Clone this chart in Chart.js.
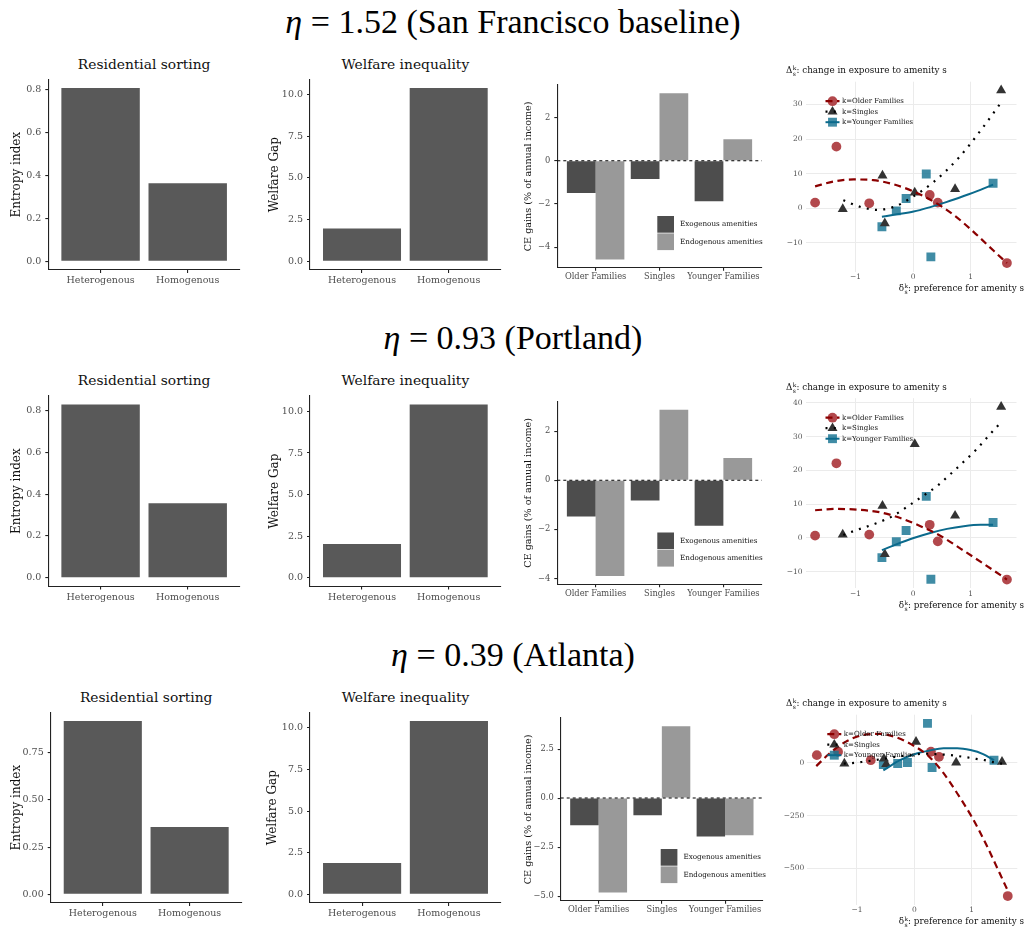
<!DOCTYPE html>
<html>
<head>
<meta charset="utf-8">
<script src="https://cdn.jsdelivr.net/npm/chart.js@4.4.1/dist/chart.umd.min.js"></script>
<style>
body{margin:0;background:#fff;}
#fig{position:relative;width:1026px;height:930px;overflow:hidden;font-family:"DejaVu Serif",serif;color:#1a1a1a;}
#fig canvas{position:absolute;}
.rowtitle{position:absolute;left:0;width:1026px;text-align:center;font-family:"Liberation Serif",serif;font-size:34px;line-height:34px;color:#000;white-space:nowrap;}
.ptitle{position:absolute;width:240px;text-align:center;font-size:13.8px;line-height:20px;color:#111;white-space:nowrap;}
.slab{position:absolute;font-size:8.8px;line-height:12px;color:#111;white-space:nowrap;}
.ss{display:inline-flex;flex-direction:column;font-size:6px;line-height:6px;vertical-align:3px;margin-left:0.5px;}
</style>
</head>
<body>
<div id="fig"></div>
<script>
// row headers
const rowEta = ['1.52', '0.93', '0.39'];
const rowCity = ['San Francisco baseline', 'Portland', 'Atlanta'];

// residential sorting / welfare inequality
const regimes = ['Heterogenous', 'Homogenous'];
const entropyIndex = [[0.809, 0.364], [0.829, 0.357], [0.918, 0.356]];
const welfareGap = [[1.97, 10.38], [2.04, 10.42], [1.89, 10.42]];
const entropyTicks = [[0, 0.2, 0.4, 0.6, 0.8], [0, 0.2, 0.4, 0.6, 0.8], [0, 0.25, 0.5, 0.75]];
const entropyTickLabels = [['0.0', '0.2', '0.4', '0.6', '0.8'], ['0.0', '0.2', '0.4', '0.6', '0.8'], ['0.00', '0.25', '0.50', '0.75']];
const gapTicks = [0, 2.5, 5, 7.5, 10];
const gapTickLabels = ['0.0', '2.5', '5.0', '7.5', '10.0'];

// CE gains
const groups = ['Older Families', 'Singles', 'Younger Families'];
const ceExogenous = [[-1.50, -0.85, -1.88], [-1.48, -0.83, -1.86], [-1.39, -0.87, -1.96]];
const ceEndogenous = [[-4.57, 3.12, 0.99], [-3.90, 2.87, 0.91], [-4.81, 3.66, -1.89]];
const ceTicks = [[-4, -2, 0, 2], [-4, -2, 0, 2], [-5, -2.5, 0, 2.5]];
const ceTickLabels = [['\u22124', '\u22122', '0', '2'], ['\u22124', '\u22122', '0', '2'], ['\u22125.0', '\u22122.5', '0.0', '2.5']];

// exposure vs preference (points)
const prefOlder = [-1.70, -1.33, -0.76, 0.29, 0.43, 1.63];
const prefSingles = [-1.22, -0.53, -0.49, 0.03, 0.73, 1.53];
const prefYounger = [-0.54, -0.29, -0.12, 0.23, 0.31, 1.39];
const expoOlder = [[1.6, 17.8, 1.4, 3.8, 1.6, -15.9], [0.7, 22.1, 1.0, 3.9, -1.0, -12.3], [37, 53, 13, 53, 29, -632]];
const expoSingles = [[-0.3, 9.4, -4.4, 4.5, 5.5, 34.1], [1.0, 9.5, -4.8, 27.8, 6.6, 38.8], [-3, 20, -6, 100, 2, 5]];
const expoYounger = [[-5.4, -0.8, 2.8, 9.9, -14.1, 7.2], [-5.8, -1.1, 2.2, 12.3, -12.2, 4.6], [-8, -3, 2, 188, -22, 13]];

// fitted curves
const fitOlderX = [
  [-1.70, -1.38, -1.03, -0.69, -0.34, 0.00, 0.36, 0.71, 1.06, 1.41, 1.63],
  [-1.70, -1.33, -0.98, -0.57, -0.22, 0.13, 0.48, 0.83, 1.17, 1.52, 1.63],
  [-1.71, -1.50, -1.20, -0.90, -0.60, -0.30, 0.00, 0.25, 0.50, 0.75, 1.00, 1.25, 1.50, 1.64]
];
const fitOlderY = [
  [6.3, 7.7, 8.3, 8.1, 6.9, 4.9, 1.9, -2.0, -7.0, -12.5, -15.9],
  [8.2, 8.6, 8.4, 7.6, 5.9, 3.5, 0.6, -3.2, -7.0, -11.0, -12.3],
  [-15, 40, 100, 132, 138, 120, 80, 32, -45, -145, -255, -385, -530, -612]
];
const fitSinglesX = [
  [-1.21, -0.92, -0.62, -0.31, -0.02, 0.36, 0.80, 1.17, 1.53],
  [-1.21, -0.92, -0.63, -0.34, -0.08, 0.17, 0.42, 0.65, 0.87, 1.09, 1.30, 1.53],
  [-1.23, -1.05, -0.90, -0.60, -0.30, 0.00, 0.16, 0.32, 0.47, 0.63, 0.78, 0.93, 1.08, 1.23, 1.39, 1.54]
];
const fitSinglesY = [
  [2.3, 0.4, -0.5, 0.5, 3.1, 7.6, 14.7, 22.4, 30.6],
  [0.9, 2.7, 4.4, 6.6, 9.5, 12.4, 15.4, 18.9, 22.4, 26.0, 30.0, 34.3],
  [-3, 0, 5, 17, 30, 40, 44, 42, 40, 37, 32, 26, 19, 13, 3, -4]
];
const fitYoungerX = [
  [-0.54, -0.28, 0.01, 0.30, 0.59, 0.88, 1.17, 1.39],
  [-0.54, -0.28, 0.01, 0.30, 0.59, 0.88, 1.17, 1.39],
  [-0.54, -0.25, 0.04, 0.25, 0.51, 0.75, 0.98, 1.20, 1.39]
];
const fitYoungerY = [
  [-2.5, -1.8, -1.0, 0.3, 1.8, 3.5, 5.3, 6.8],
  [-3.6, -1.8, 0.0, 1.5, 2.7, 3.5, 3.9, 3.9],
  [-35, 13, 45, 58, 70, 70, 61, 42, 13]
];
const prefTicks = [-1, 0, 1];
const prefTickLabels = ['\u22121', '0', '1'];
const expoTicks = [[-10, 0, 10, 20, 30], [-10, 0, 10, 20, 30, 40], [-500, -250, 0]];
const expoTickLabels = [['\u221210', '0', '10', '20', '30'], ['\u221210', '0', '10', '20', '30', '40'], ['\u2212500', '\u2212250', '0']];
const groupKeys = ['k=Older Families', 'k=Singles', 'k=Younger Families'];

// ---------------------------------------------------------------
Chart.defaults.font.family = '"DejaVu Serif", serif';
Chart.defaults.color = '#4d4d4d';

const fig = document.getElementById('fig');
const ROW_STEP = 316.5;

// plot-area rectangles, per panel kind and row
const AREA = {
  sort: [{x0: 48.3, x1: 240}, {x0: 48.3, x1: 240}, {x0: 50.7, x1: 241.7}],
  gap: [{x0: 310, x1: 500.7}, {x0: 310, x1: 500.7}, {x0: 310, x1: 501}],
  ce: [{x0: 557.3, x1: 761.7}, {x0: 557.3, x1: 761.7}, {x0: 560.7, x1: 763}],
  expo: [{x0: 805.5, x1: 1016.5}, {x0: 805.5, x1: 1016.5}, {x0: 807.3, x1: 1017.3}]
};
const AREA_Y = {sort: [79.3, 270], gap: [79.3, 270], ce: [85, 267.7], expo: [81.7, 271.7]};
const BOX_X = {sort: [0, 252], gap: [255, 512], ce: [512, 778], expo: [778, 1026]};

function addDiv(cls, html, style) {
  const d = document.createElement('div');
  d.className = cls;
  d.innerHTML = html;
  Object.assign(d.style, style);
  fig.appendChild(d);
  return d;
}

function frame(kind, r, xH) {
  const a = AREA[kind][r];
  const y0 = AREA_Y[kind][0] + r * ROW_STEP, y1 = AREA_Y[kind][1] + r * ROW_STEP;
  const bx = BOX_X[kind][0], bw = BOX_X[kind][1] - bx;
  const by = Math.floor(y0) - 20, bh = Math.ceil(y1 + xH + 4) - by;
  const canvas = document.createElement('canvas');
  canvas.width = bw;
  canvas.height = bh;
  canvas.style.left = bx + 'px';
  canvas.style.top = by + 'px';
  fig.appendChild(canvas);
  return {
    canvas, bx, xH,
    yW: a.x0 - bx,
    padding: {left: 0, top: y0 - by, right: bx + bw - a.x1, bottom: bh - (y1 - by) - xH}
  };
}

function expand(vals) {
  const lo = Math.min(...vals), hi = Math.max(...vals), d = (hi - lo) * 0.05;
  return [lo - d, hi + d];
}

const baseOpts = (f) => ({
  animation: false, responsive: false, events: [], devicePixelRatio: 1,
  layout: {padding: f.padding, autoPadding: false},
  plugins: {legend: {display: false}, tooltip: {enabled: false}}
});

function classicAxes(f, xVals, xLabels, xSize, xPad, yLim, yTicks, yLabels, ySize, yTitle, yTitleX, yTitleSize) {
  return {
    x: {
      type: 'linear', min: 0.4, max: xVals.length + 0.6, offset: false,
      afterBuildTicks: s => { s.ticks = xVals.map((v, i) => ({value: i + 1})); },
      afterFit: s => { s.height = f.xH; },
      ticks: {callback: (v, i) => xLabels[i], font: {size: xSize}, color: '#4d4d4d', padding: xPad, autoSkip: false, maxRotation: 0},
      grid: {offset: false, drawOnChartArea: false, drawTicks: true, tickLength: 3, color: '#222', lineWidth: 1.1},
      border: {display: true, color: '#222', width: 1.1}
    },
    y: {
      type: 'linear', min: yLim[0], max: yLim[1],
      afterBuildTicks: s => { s.ticks = yTicks.map(v => ({value: v})); },
      afterFit: s => { s.width = f.yW; },
      ticks: {callback: (v, i) => yLabels[i], font: {size: ySize}, color: '#4d4d4d', padding: 4, autoSkip: false},
      grid: {drawOnChartArea: false, drawTicks: true, tickLength: 3, color: '#222', lineWidth: 1.1},
      border: {display: true, color: '#222', width: 1.1},
      title: {display: true, text: yTitle, color: '#111', font: {size: yTitleSize},
        padding: {top: yTitleX - f.bx - yTitleSize * 0.6, bottom: 0}}
    }
  };
}

function barPanel(kind, r, values, yTicks, yLabels, yTitle, yTitleX) {
  const f = frame(kind, r, 24);
  const cfg = {
    type: 'bar',
    data: {datasets: [{
      data: values.map((v, i) => ({x: i + 1, y: v})),
      backgroundColor: '#595959', barPercentage: 0.9, categoryPercentage: 1
    }]},
    options: baseOpts(f)
  };
  cfg.options.scales = classicAxes(f, values, regimes, 9.5, 2, expand(values.concat([0])),
    yTicks, yLabels, 9.5, yTitle, yTitleX, 12);
  new Chart(f.canvas, cfg);
}

const zeroLine = {
  id: 'zeroLine',
  afterDatasetsDraw(chart) {
    const {ctx, chartArea: a, scales: {y}} = chart;
    const py = y.getPixelForValue(0);
    ctx.save();
    ctx.strokeStyle = '#000';
    ctx.lineWidth = 1.1;
    ctx.setLineDash([3, 3]);
    ctx.beginPath();
    ctx.moveTo(a.left, py);
    ctx.lineTo(a.right, py);
    ctx.stroke();
    ctx.restore();
  }
};

const ceLegend = {
  id: 'ceLegend',
  afterDraw(chart) {
    const {ctx, chartArea: a} = chart;
    const x = a.left + 100, y = a.top + 131, s = 16.7;
    ctx.save();
    chart.data.datasets.forEach((ds, i) => {
      const yy = y + i * (s + 0.7);
      ctx.fillStyle = ds.backgroundColor;
      ctx.fillRect(x, yy, s, s);
      ctx.fillStyle = '#111';
      ctx.font = '7.2px "DejaVu Serif"';
      ctx.textBaseline = 'middle';
      ctx.fillText(ds.label, x + s + 6, yy + s / 2);
    });
    ctx.restore();
  }
};

function cePanel(r) {
  const f = frame('ce', r, 22);
  const cfg = {
    type: 'bar',
    data: {datasets: [
      {label: 'Exogenous amenities', data: ceExogenous[r].map((v, i) => ({x: i + 1, y: v})),
        backgroundColor: '#4d4d4d', barPercentage: 1, categoryPercentage: 0.9},
      {label: 'Endogenous amenities', data: ceEndogenous[r].map((v, i) => ({x: i + 1, y: v})),
        backgroundColor: '#999999', barPercentage: 1, categoryPercentage: 0.9}
    ]},
    options: baseOpts(f),
    plugins: [zeroLine, ceLegend]
  };
  cfg.options.scales = classicAxes(f, groups, groups, 8.3, 1.5,
    expand(ceExogenous[r].concat(ceEndogenous[r], [0])),
    ceTicks[r], ceTickLabels[r], 8.3, 'CE gains (% of annual income)', 528.3, 9.6);
  new Chart(f.canvas, cfg);
}

const scatterLegend = {
  id: 'scatterLegend',
  afterDraw(chart) {
    const {ctx, chartArea: a} = chart;
    const cx = a.left + 27;
    ctx.save();
    for (let i = 0; i < 3; i++) {
      const pt = chart.data.datasets[i], ln = chart.data.datasets[i + 3];
      const cy = a.top + 19.5 + i * 10.5;
      ctx.fillStyle = pt.backgroundColor;
      Chart.helpers.drawPoint(ctx, {pointStyle: pt.pointStyle, radius: pt.pointRadius, borderWidth: 0, rotation: 0}, cx, cy);
      ctx.save();
      ctx.strokeStyle = ln.borderColor;
      ctx.lineWidth = ln.borderWidth;
      ctx.setLineDash(ln.borderDash || []);
      ctx.beginPath();
      ctx.moveTo(cx - 7, cy);
      ctx.lineTo(cx + 7, cy);
      ctx.stroke();
      ctx.restore();
      ctx.fillStyle = '#111';
      ctx.font = '7px "DejaVu Serif"';
      ctx.textBaseline = 'middle';
      ctx.fillText(groupKeys[i], a.left + 36.5, cy);
    }
    ctx.restore();
  }
};

function pts(xs, ys) { return xs.map((x, i) => ({x, y: ys[i]})); }

function expoPanel(r) {
  const f = frame('expo', r, 14);
  const allX = prefOlder.concat(prefSingles, prefYounger);
  const allY = expoOlder[r].concat(expoSingles[r], expoYounger[r]);
  const pointSet = (data, style, radius, color) => ({
    data, pointStyle: style, pointRadius: radius, backgroundColor: color,
    borderWidth: 0, showLine: false, order: 2
  });
  const lineSet = (data, color, width, dash) => ({
    data, borderColor: color, borderWidth: width, borderDash: dash, showLine: true,
    pointRadius: 0, fill: false, cubicInterpolationMode: 'monotone', order: 1
  });
  const cfg = {
    type: 'scatter',
    data: {datasets: [
      pointSet(pts(prefOlder, expoOlder[r]), 'circle', 4.9, 'rgba(165,40,45,0.85)'),
      pointSet(pts(prefSingles, expoSingles[r]), 'triangle', 5.8, '#333333'),
      pointSet(pts(prefYounger, expoYounger[r]), 'rect', 6.3, 'rgba(22,115,145,0.82)'),
      lineSet(pts(fitOlderX[r], fitOlderY[r]), '#8b0000', 2.2, [7, 4.5]),
      lineSet(pts(fitSinglesX[r], fitSinglesY[r]), '#000000', 2.2, [2, 6.3]),
      lineSet(pts(fitYoungerX[r], fitYoungerY[r]), '#0b6a8c', 2, [])
    ]},
    options: baseOpts(f),
    plugins: [scatterLegend]
  };
  const xl = expand(allX), yl = expand(allY);
  cfg.options.scales = {
    x: {
      type: 'linear', min: xl[0], max: xl[1],
      afterBuildTicks: s => { s.ticks = prefTicks.map(v => ({value: v})); },
      afterFit: s => { s.height = f.xH; },
      ticks: {callback: (v, i) => prefTickLabels[i], font: {size: 7.5}, color: '#555', padding: 1, autoSkip: false, maxRotation: 0},
      grid: {color: '#ebebeb', lineWidth: 1, drawTicks: false},
      border: {display: false}
    },
    y: {
      type: 'linear', min: yl[0], max: yl[1],
      afterBuildTicks: s => { s.ticks = expoTicks[r].map(v => ({value: v})); },
      afterFit: s => { s.width = f.yW; },
      ticks: {callback: (v, i) => expoTickLabels[r][i], font: {size: 7.5}, color: '#555', padding: 3, autoSkip: false},
      grid: {color: '#ebebeb', lineWidth: 1, drawTicks: false},
      border: {display: false}
    }
  };
  new Chart(f.canvas, cfg);
}

for (let r = 0; r < 3; r++) {
  const dy = r * ROW_STEP;
  addDiv('rowtitle', '<i>\u03b7</i> = ' + rowEta[r] + ' (' + rowCity[r] + ')', {top: (4.5 + dy) + 'px'});
  const sa = AREA.sort[r], ga = AREA.gap[r];
  addDiv('ptitle', 'Residential sorting', {left: ((sa.x0 + sa.x1) / 2 - 120) + 'px', top: (53.5 + dy) + 'px'});
  addDiv('ptitle', 'Welfare inequality', {left: ((ga.x0 + ga.x1) / 2 - 120) + 'px', top: (53.5 + dy) + 'px'});

  barPanel('sort', r, entropyIndex[r], entropyTicks[r], entropyTickLabels[r], 'Entropy index', 16.7);
  barPanel('gap', r, welfareGap[r], gapTicks, gapTickLabels, 'Welfare Gap', r === 2 ? 273.3 : 275);
  cePanel(r);
  expoPanel(r);

  addDiv('slab', '\u0394<span class="ss"><span>k</span><span>s</span></span>: change in exposure to amenity s',
    {left: '786px', top: (64 + dy) + 'px'});
  addDiv('slab', '\u03b4<span class="ss"><span>k</span><span>s</span></span>: preference for amenity s',
    {right: '2px', top: (282 + dy) + 'px'});
}
</script>
</body>
</html>
